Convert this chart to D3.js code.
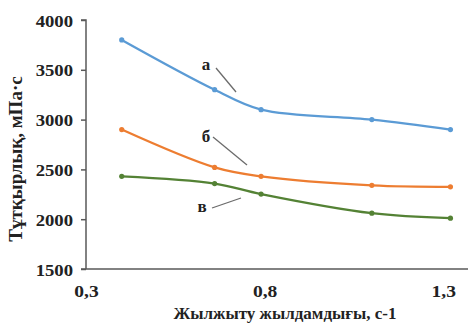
<!DOCTYPE html>
<html><head><meta charset="utf-8">
<script src="https://cdn.jsdelivr.net/npm/d3@7"></script>
<style>html,body{margin:0;padding:0;background:#fff;}svg{display:block;}</style>
</head><body>
<script>
const xValues = [0.4, 0.66, 0.79, 1.1, 1.32];
const seriesA = [3800, 3300, 3100, 3000, 2900];
const seriesB = [2900, 2520, 2430, 2340, 2325];
const seriesC = [2430, 2358, 2252, 2060, 2010];
const seriesNames = ["а", "б", "в"];
const xTicks = [0.3, 0.8, 1.3];
const yTicks = [1500, 2000, 2500, 3000, 3500, 4000];
const xTitle = "Жылжыту жылдамдығы, с-1";
const yTitle = "Тұтқырлық, мПа·с";
const colors = ["#5b9bd5", "#ed7d31", "#548235"];

const W = 470, H = 324;
const svg = d3.select("body").append("svg").attr("width", W).attr("height", H);
const font = "Liberation Serif, Times New Roman, serif";

const x = d3.scaleLinear().domain([0.3, 1.3]).range([86, 443.3]);
const y = d3.scaleLinear().domain([1500, 4000]).range([269, 20]);

// Y axis
const yAxis = svg.append("g").attr("transform", "translate(86,0)")
  .attr("font-family", font)
  .call(d3.axisLeft(y).tickValues(yTicks).tickSize(5).tickPadding(5).tickFormat(d3.format("d")));
yAxis.attr("font-family", font);
yAxis.select(".domain").attr("stroke", "#595959").attr("stroke-width", 1.5).attr("d", `M-5,${y(4000)}H0V${y(1500)}`);
yAxis.selectAll(".tick line").attr("stroke", "#595959").attr("stroke-width", 1.5);
yAxis.selectAll(".tick text").attr("font-family", font).attr("font-weight", "bold")
  .attr("font-size", 17).attr("fill", "#222").attr("dy", "0.36em")
  .attr("transform", "translate(-2,0) scale(1.1,1)");

// X axis
const xAxis = svg.append("g").attr("transform", `translate(0,${y(1500)})`)
  .call(d3.axisBottom(x).tickValues(xTicks).tickSize(0).tickPadding(16).tickFormat(d => d3.format(".1f")(d).replace(".", ",")));
xAxis.attr("font-family", font);
xAxis.select(".domain").attr("stroke", "#595959").attr("stroke-width", 1.5).attr("d", "M81,0H468");
xAxis.selectAll(".tick text").attr("font-family", font).attr("font-weight", "bold")
  .attr("font-size", 17).attr("fill", "#222")
  .attr("transform", "scale(1.15,1)");

// Series
const series = [seriesA, seriesB, seriesC];
const line = d3.line().x((d, i) => x(xValues[i])).y(d => y(d)).curve(d3.curveCatmullRom.alpha(0.5));
series.forEach((s, k) => {
  svg.append("path").attr("d", line(s)).attr("fill", "none")
    .attr("stroke", colors[k]).attr("stroke-width", 2.3);
  svg.selectAll(null).data(s).enter().append("circle")
    .attr("cx", (d, i) => x(xValues[i])).attr("cy", d => y(d)).attr("r", 2.6)
    .attr("fill", colors[k]);
});

// Annotations
const ann = [
  {t: seriesNames[0], tx: 206, ty: 65, l: [216, 68, 236, 92]},
  {t: seriesNames[1], tx: 206, ty: 137, l: [213, 137, 247, 165]},
  {t: seriesNames[2], tx: 202, ty: 207, l: [212, 208, 241, 198]},
];
ann.forEach(a => {
  svg.append("text").attr("x", a.tx).attr("y", a.ty).attr("dy", "0.3em")
    .attr("text-anchor", "middle").attr("font-family", font).attr("font-weight", "bold")
    .attr("font-size", 17).attr("fill", "#222").text(a.t);
  svg.append("line").attr("x1", a.l[0]).attr("y1", a.l[1]).attr("x2", a.l[2]).attr("y2", a.l[3])
    .attr("stroke", "#6b6b6b").attr("stroke-width", 1.3);
});

// Titles
svg.append("text").attr("x", 285).attr("y", 313).attr("dy", "0.35em")
  .attr("text-anchor", "middle").attr("font-family", font).attr("font-weight", "bold")
  .attr("font-size", 17).attr("fill", "#222").text(xTitle);
svg.append("text").attr("transform", "translate(15,159) rotate(-90)").attr("dy", "0.35em")
  .attr("text-anchor", "middle").attr("font-family", font).attr("font-weight", "bold")
  .attr("font-size", 19).attr("fill", "#222").text(yTitle);
</script>
</body></html>
